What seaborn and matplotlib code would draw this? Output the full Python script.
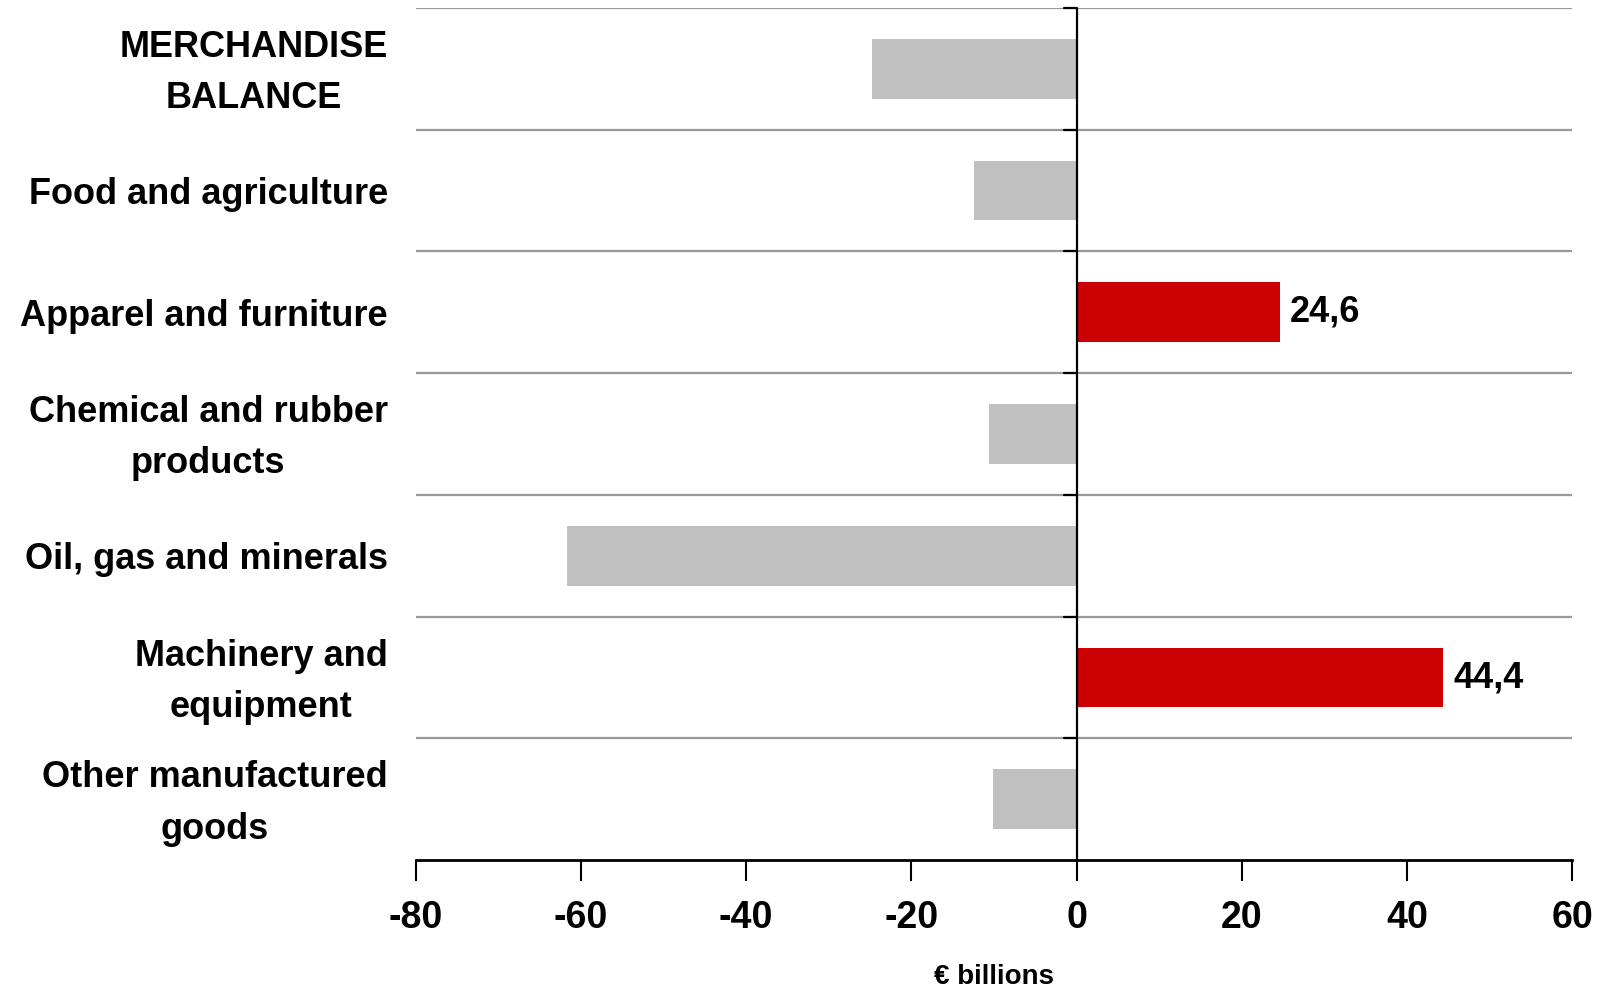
import matplotlib
matplotlib.use("Agg")
import matplotlib.pyplot as plt
import matplotlib.transforms as mtransforms
import seaborn as sns
import numpy as np
import pandas as pd

categories = ["MERCHANDISE\nBALANCE", "Food and agriculture", "Apparel and furniture",
              "Chemical and rubber\nproducts", "Oil, gas and minerals",
              "Machinery and\nequipment", "Other manufactured\ngoods"]
values = [-24.8, -12.4, 24.6, -10.6, -61.7, 44.4, -10.1]
labeled = [False, False, True, False, False, True, False]
x_ticks = [-80, -60, -40, -20, 0, 20, 40, 60]
x_label = "€ billions"

sns.set_theme(style="white")
plt.rcParams['font.family'] = ['Liberation Sans', 'DejaVu Sans']
plt.rcParams['text.color'] = 'black'
plt.rcParams['xtick.color'] = 'black'
plt.rcParams['ytick.color'] = 'black'
plt.rcParams['axes.labelcolor'] = 'black'

df = pd.DataFrame({"cat": categories, "val": values})
palette = {c: ("#CC0000" if v > 0 else "#C0C0C0") for c, v in zip(categories, values)}

fig = plt.figure(figsize=(16.11, 9.91), dpi=100)
ax = fig.add_axes([0.258, 0.132, 0.718, 0.860])
sns.barplot(data=df, x="val", y="cat", hue="cat", palette=palette, legend=False,
            orient="h", width=0.49, saturation=1, ax=ax, linewidth=0)

ax.set_xlim(-80, 60)
ax.set_ylim(len(categories) - 0.5, -0.5)
ax.set_xticks(x_ticks)
ax.set_xticklabels([str(t) for t in x_ticks], fontsize=27, fontweight="bold", color="black")
ax.tick_params(axis="x", direction="out", length=15, width=1.5, color="black", pad=14, bottom=True)

# y labels
ax.set_yticks(range(len(categories)))
ax.set_yticklabels(categories, fontsize=26, fontweight="bold", multialignment="center",
                   linespacing=1.6, color="black")
ax.tick_params(axis="y", length=0, pad=20)
ax.set_ylabel("")
ax.set_xlabel(x_label, fontsize=20, fontweight="bold", labelpad=20, color="black")

shift = mtransforms.ScaledTranslation(0, 0.08, fig.dpi_scale_trans)
for lbl in ax.get_yticklabels():
    if "\n" in lbl.get_text():
        lbl.set_transform(lbl.get_transform() + shift)

# gridlines at category boundaries
for b in np.arange(-0.5, len(categories) - 0.5, 1.0):
    ax.axhline(b, color="#999999", lw=1.6, zorder=0)
    ax.plot([-1.5, 0], [b, b], color="black", lw=1.6, zorder=3, clip_on=False)

ax.axvline(0, color="black", lw=1.6, zorder=3)

for s in ["top", "right", "left"]:
    ax.spines[s].set_visible(False)
ax.spines["bottom"].set_color("black")
ax.spines["bottom"].set_linewidth(2)

for i, (v, lab) in enumerate(zip(values, labeled)):
    if lab:
        ax.text(v + 1.2, i, f"{v:.1f}".replace(".", ","), va="center", ha="left",
                fontsize=26, fontweight="bold", color="black")

fig.savefig("out.png", dpi=100)
